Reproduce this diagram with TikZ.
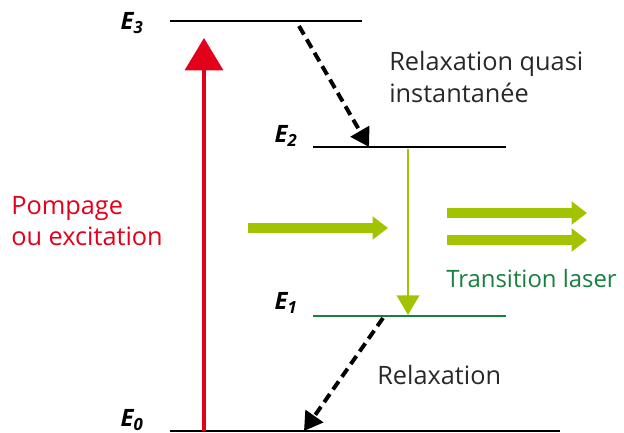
\documentclass[tikz,border=0pt]{standalone}
\usepackage{fontspec}
\setmainfont{Open Sans}
\usetikzlibrary{arrows.meta,positioning}
\definecolor{PumpRed}{RGB}{226,0,26}
\definecolor{LaserLime}{RGB}{162,196,0}
\definecolor{LaserGreen}{RGB}{22,128,62}
\definecolor{TextGray}{RGB}{40,40,40}

\tikzset{
	level/.style={line width=1.6pt, line cap=butt},
	lvlname/.style={font=\bfseries\itshape\fontsize{17}{19}\selectfont, inner sep=0pt},
	relax/.style={line width=2.8pt, dash pattern=on 7pt off 4pt, -{Triangle[width=15pt,length=13pt]}},
	beam/.style={LaserLime, line width=7pt, -{Triangle[width=16pt,length=11pt]}},
	txt/.style={font=\fontsize{18}{22.5}\selectfont, align=left, inner sep=0pt}
}

\begin{document}
\begin{tikzpicture}[x=0.025cm, y=-0.025cm]
	\useasboundingbox (0,0) rectangle (624,433);
	% niveaux
	\coordinate (e3a) at (170,21);  \coordinate (e3b) at (362,21);
	\coordinate (e2a) at (313,147); \coordinate (e2b) at (506,147);
	\coordinate (e1a) at (313,316); \coordinate (e1b) at (506,316);
	\coordinate (e0a) at (170,431); \coordinate (e0b) at (560,431);
	\draw[level] (e3a) -- (e3b);
	\draw[level] (e2a) -- (e2b);
	\draw[level, LaserGreen] (e1a) -- (e1b);
	\draw[level] (e0a) -- (e0b);
	\node[lvlname] (E3) at (132,23) {E\textsubscript{3}};
	\node[lvlname] (E2) at (286,136) {E\textsubscript{2}};
	\node[lvlname] (E1) at (286,303) {E\textsubscript{1}};
	\node[lvlname] (E0) at (132,420) {E\textsubscript{0}};
	% pompage
	\coordinate (pumpfrom) at (204,431);
	\coordinate (pumpto) at (204,38);
	\draw[PumpRed, line width=2.6pt, -{Triangle[width=27pt,length=23pt]}] (pumpfrom) -- (pumpto);
	\node[txt, PumpRed, anchor=west] (pump) at (11,221) {Pompage\\ou excitation};
	% relaxations
	\coordinate (r1from) at (299,26);
	\coordinate (r1to) at (369,147);
	\draw[relax] (r1from) -- (r1to);
	\node[txt, TextGray, anchor=west] (quasi) at (389,77) {Relaxation quasi\\instantanée};
	\coordinate (r2from) at (383,318);
	\coordinate (r2to) at (304,431);
	\draw[relax] (r2from) -- (r2to);
	\node[txt, TextGray, anchor=west] (relax) at (377,375) {Relaxation};
	% transition laser
	\coordinate (lfrom) at (408,149);
	\coordinate (lto) at (408,315);
	\draw[LaserLime, line width=1.5pt, -{Triangle[width=16pt,length=14pt]}] (lfrom) -- (lto);
	\coordinate (b0a) at (248,228); \coordinate (b0b) at (388,228);
	\coordinate (b1a) at (447,213); \coordinate (b1b) at (587,213);
	\coordinate (b2a) at (447,240); \coordinate (b2b) at (587,240);
	\draw[beam] (b0a) -- (b0b);
	\draw[beam] (b1a) -- (b1b);
	\draw[beam] (b2a) -- (b2b);
	\node[txt, LaserGreen, anchor=west, font=\fontsize{17}{21}\selectfont] (laser) at (446,279) {Transition laser};
\end{tikzpicture}
\end{document}
